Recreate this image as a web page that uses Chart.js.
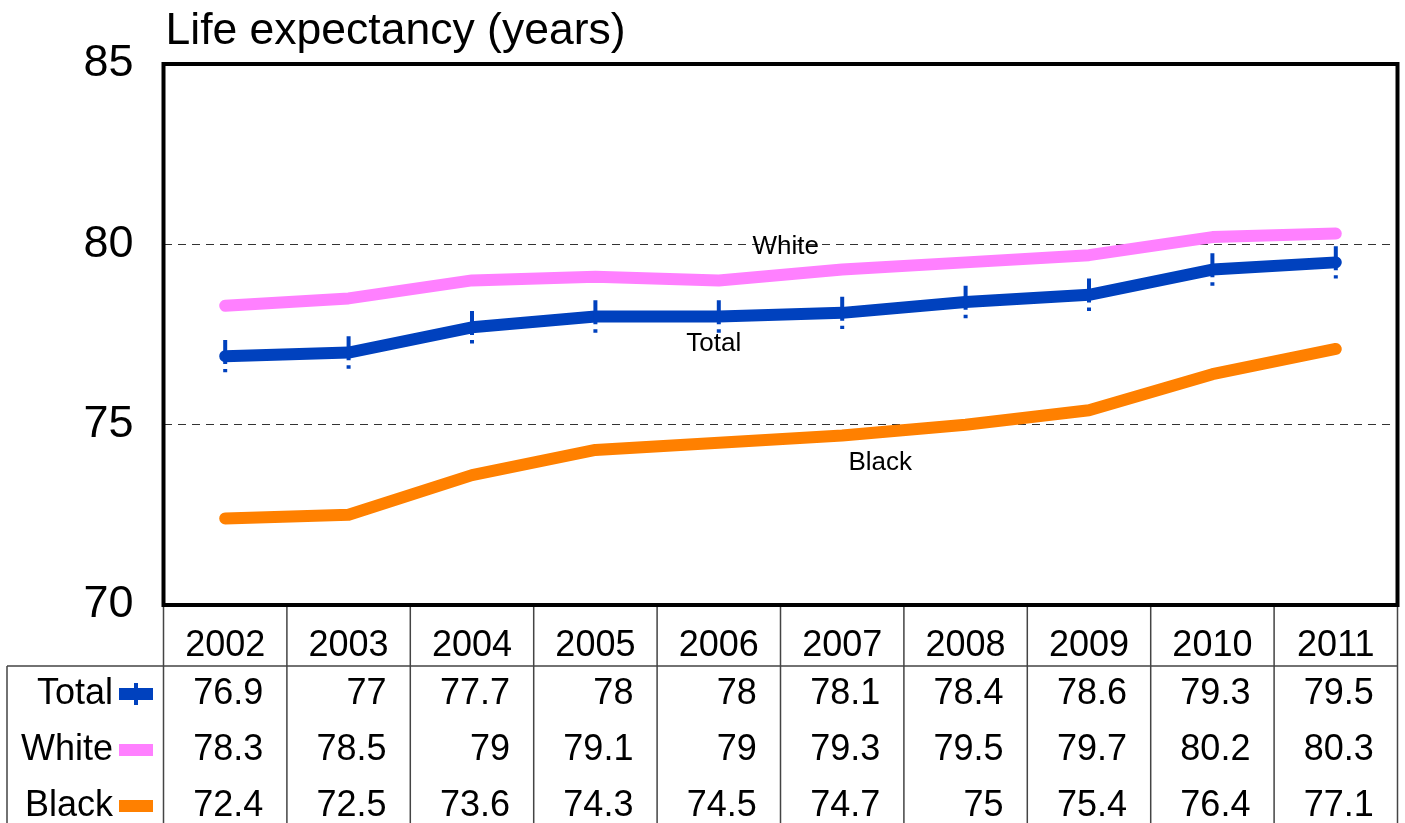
<!DOCTYPE html>
<html>
<head>
<meta charset="utf-8">
<script src="https://cdn.jsdelivr.net/npm/chart.js@4.4.1/dist/chart.umd.min.js"></script>
<style>
  html, body { margin: 0; padding: 0; background: #fff; }
  #wrap { width: 1405px; height: 823px; position: relative; }
</style>
</head>
<body>
<div id="wrap"><canvas id="lifeChart"></canvas></div>
<script>
// Data
const years = ['2002', '2003', '2004', '2005', '2006', '2007', '2008', '2009', '2010', '2011'];
const totalValues = [76.9, 77, 77.7, 78, 78, 78.1, 78.4, 78.6, 79.3, 79.5];
const whiteValues = [78.3, 78.5, 79, 79.1, 79, 79.3, 79.5, 79.7, 80.2, 80.3];
const blackValues = [72.4, 72.5, 73.6, 74.3, 74.5, 74.7, 75, 75.4, 76.4, 77.1];
const totalError = [0.45, 0.45, 0.45, 0.45, 0.45, 0.45, 0.45, 0.45, 0.45, 0.45];
const yTicks = [70, 75, 80, 85];
const seriesNames = ['Total', 'White', 'Black'];
const seriesColors = ['#0041BE', '#FF80FF', '#FF8000'];
const titleText = 'Life expectancy (years)';

const FONT = "'Liberation Sans', Arial, sans-serif";

// Series labels written inside the plot (anchored to a year, nudged in px)
const inlineLabels = [
    { text: 'White', year: '2006', value: 79.93, dx: 67 },
    { text: 'Total', year: '2006', value: 77.24, dx: -5 },
    { text: 'Black', year: '2007', value: 73.94, dx: 38 }
];

// Title, plot frame, error bars, inline labels and the data table
const extrasPlugin = {
    id: 'extras',
    afterDatasetsDraw(chart) {
        const ctx = chart.ctx;
        const x = chart.scales.x;
        const y = chart.scales.y;

        // dashed error bars on Total
        ctx.save();
        ctx.strokeStyle = seriesColors[0];
        ctx.lineWidth = 4;
        ctx.setLineDash([24, 5, 5, 200]);
        totalValues.forEach((v, i) => {
            const px = x.getPixelForValue(i);
            ctx.beginPath();
            ctx.moveTo(px, y.getPixelForValue(v + totalError[i]));
            ctx.lineTo(px, y.getPixelForValue(v - totalError[i]));
            ctx.stroke();
        });
        ctx.restore();
    },
    afterDraw(chart) {
        const ctx = chart.ctx;
        const area = chart.chartArea;
        const x = chart.scales.x;
        const y = chart.scales.y;

        ctx.save();

        // title
        ctx.fillStyle = '#000';
        ctx.font = '44.5px ' + FONT;
        ctx.textAlign = 'left';
        ctx.textBaseline = 'alphabetic';
        ctx.fillText(titleText, area.left + 2, 44);

        // inline labels
        ctx.font = '26px ' + FONT;
        ctx.textAlign = 'center';
        ctx.textBaseline = 'middle';
        inlineLabels.forEach(l => {
            ctx.fillText(l.text, x.getPixelForValue(years.indexOf(l.year)) + l.dx, y.getPixelForValue(l.value));
        });

        // table grid
        const colW = (area.right - area.left) / years.length;
        const headerBottom = 666;
        const bottom = chart.height;
        ctx.strokeStyle = '#444';
        ctx.lineWidth = 1.5;
        ctx.beginPath();
        for (let i = 0; i <= years.length; i++) {
            const lx = area.left + i * colW;
            ctx.moveTo(lx, area.bottom);
            ctx.lineTo(lx, bottom);
        }
        ctx.moveTo(7, headerBottom);
        ctx.lineTo(area.right, headerBottom);
        ctx.moveTo(7, headerBottom);
        ctx.lineTo(7, bottom);
        ctx.stroke();

        // plot frame
        ctx.strokeStyle = '#000';
        ctx.lineWidth = 4;
        ctx.strokeRect(area.left, area.top, area.right - area.left, area.bottom - area.top);

        // header row
        ctx.fillStyle = '#000';
        ctx.font = '36px ' + FONT;
        ctx.textAlign = 'center';
        ctx.textBaseline = 'middle';
        years.forEach((yr, i) => {
            ctx.fillText(yr, x.getPixelForValue(i), 646);
        });

        // data rows
        const rows = [totalValues, whiteValues, blackValues];
        const rowY = [694, 750, 806];
        rows.forEach((vals, r) => {
            ctx.fillStyle = '#000';
            ctx.textAlign = 'right';
            ctx.fillText(seriesNames[r], 113, rowY[r]);
            vals.forEach((v, i) => {
                ctx.fillText(String(v), x.getPixelForValue(i) + 38, rowY[r]);
            });
            // legend key
            ctx.fillStyle = seriesColors[r];
            ctx.fillRect(119, rowY[r] - 6, 34, 12);
            if (r === 0) {
                ctx.fillRect(134, rowY[r] - 11, 4, 22);
            }
        });

        ctx.restore();
    }
};

const chartCanvas = document.getElementById('lifeChart');

new Chart(chartCanvas, {
    type: 'line',
    data: {
        labels: years,
        datasets: [
            { label: seriesNames[1], data: whiteValues, borderColor: seriesColors[1] },
            { label: seriesNames[0], data: totalValues, borderColor: seriesColors[0] },
            { label: seriesNames[2], data: blackValues, borderColor: seriesColors[2] }
        ].map(d => Object.assign(d, {
            borderWidth: 12,
            pointRadius: 0,
            tension: 0,
            fill: false,
            borderCapStyle: 'round',
            borderJoinStyle: 'round'
        }))
    },
    options: {
        responsive: true,
        maintainAspectRatio: false,
        animation: false,
        layout: {
            padding: { top: 64, right: 7.5, bottom: 218, left: 0 }
        },
        plugins: {
            legend: { display: false },
            title: { display: false },
            tooltip: { enabled: false }
        },
        scales: {
            x: {
                display: false,
                offset: true
            },
            y: {
                min: yTicks[0],
                max: yTicks[yTicks.length - 1],
                afterBuildTicks: scale => {
                    scale.ticks = yTicks.map(v => ({ value: v }));
                },
                afterFit: scale => {
                    scale.width = 163.5;
                },
                border: { display: false, dash: [8, 6] },
                grid: {
                    drawTicks: false,
                    lineWidth: 1,
                    color: c => (c.tick && (c.tick.value === 75 || c.tick.value === 80)) ? '#333' : 'rgba(0,0,0,0)'
                },
                ticks: {
                    padding: 30,
                    color: '#000',
                    font: { family: FONT, size: 45 }
                }
            }
        }
    },
    plugins: [extrasPlugin]
});
</script>
</body>
</html>
